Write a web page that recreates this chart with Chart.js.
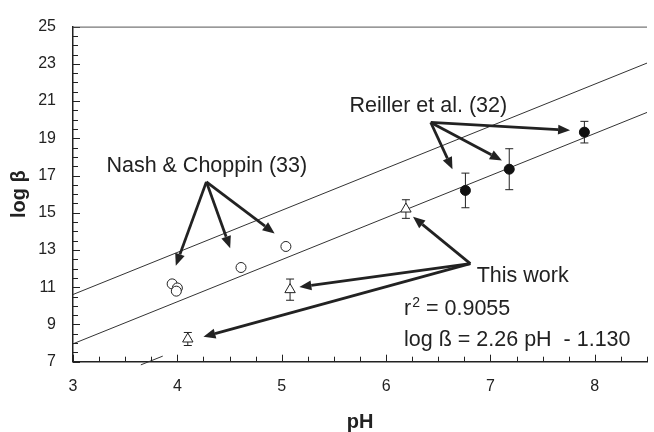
<!DOCTYPE html>
<html>
<head>
<meta charset="utf-8">
<script src="https://cdn.jsdelivr.net/npm/chart.js@4.4.0/dist/chart.umd.min.js"></script>
<style>
  html, body { margin: 0; padding: 0; background: #fff; }
  #wrap { width: 654px; height: 432px; }
</style>
</head>
<body>
<div id="wrap"><canvas id="c" width="654" height="432"></canvas></div>
<script>
'use strict';

// Nash & Choppin (33) - open circles
const nashPH = [3.95, 4.00, 3.99, 4.61, 5.04];
const nashLogB = [11.18, 10.96, 10.79, 12.06, 13.19];

// This work - open triangles with error bars
const workPH = [4.10, 5.08, 6.19];
const workLogB = [8.22, 10.87, 15.20];
const workErr = [0.35, 0.57, 0.50];

// Reiller et al. (32) - filled circles with error bars
const reillerPH = [6.76, 7.18, 7.90];
const reillerLogB = [16.20, 17.34, 19.33];
const reillerErr = [0.93, 1.10, 0.58];

// straight lines (end points)
const linePH = [3, 8.5];
const upperLine = [10.61, 23.04];
const lowerLine = [7.96, 20.39];
const stubPH = [3.65, 3.86];
const stubLine = [6.83, 7.30];

// axis ticks
const xTicks = [3, 4, 5, 6, 7, 8];
const yTicks = [7, 9, 11, 13, 15, 17, 19, 21, 23, 25];

const INK = '#222';
const FONT = '"Liberation Sans", Arial, sans-serif';

function pts(xs, ys) {
    return xs.map((x, i) => ({ x: x, y: ys[i] }));
}

// annotations: text spot + arrows, in data units
const notes = [
    { text: 'Nash & Choppin (33)', at: [3.32, 17.2], from: [4.278, 16.66],
      to: [[3.985, 12.16], [4.506, 13.10], [4.932, 13.89]] },
    { text: 'Reiller et al. (32)', at: [5.649, 20.43], from: [6.428, 19.85],
      to: [[7.763, 19.43], [7.11, 17.81], [6.636, 17.34]] },
    { text: 'This work', at: [6.868, 11.27], from: [6.807, 12.27],
      to: [[6.258, 14.78], [5.169, 11.01], [4.25, 8.34]] }
];

function arrow(ctx, x1, y1, x2, y2) {
    const ang = Math.atan2(y2 - y1, x2 - x1);
    const hl = 12, hw = 5;
    const bx = x2 - Math.cos(ang) * hl, by = y2 - Math.sin(ang) * hl;
    ctx.beginPath();
    ctx.moveTo(x1, y1);
    ctx.lineTo(bx, by);
    ctx.stroke();
    ctx.beginPath();
    ctx.moveTo(x2, y2);
    ctx.lineTo(bx + Math.sin(ang) * hw, by - Math.cos(ang) * hw);
    ctx.lineTo(bx - Math.sin(ang) * hw, by + Math.cos(ang) * hw);
    ctx.closePath();
    ctx.fill();
}

// error bars, drawn under the markers
const errorBars = {
    id: 'errorBars',
    beforeDatasetsDraw(chart) {
        const ctx = chart.ctx, xs = chart.scales.x, ys = chart.scales.y;
        const sets = [[workPH, workLogB, workErr], [reillerPH, reillerLogB, reillerErr]];
        ctx.save();
        ctx.strokeStyle = INK;
        ctx.lineWidth = 1;
        sets.forEach(s => {
            s[0].forEach((ph, i) => {
                const px = xs.getPixelForValue(ph);
                const top = ys.getPixelForValue(s[1][i] + s[2][i]);
                const bot = ys.getPixelForValue(s[1][i] - s[2][i]);
                ctx.beginPath();
                ctx.moveTo(px, top); ctx.lineTo(px, bot);
                ctx.moveTo(px - 4, top); ctx.lineTo(px + 4, top);
                ctx.moveTo(px - 4, bot); ctx.lineTo(px + 4, bot);
                ctx.stroke();
            });
        });
        ctx.restore();
    }
};

// inward tick marks, top frame line and the text notes
const decor = {
    id: 'decor',
    afterDraw(chart) {
        const ctx = chart.ctx, xs = chart.scales.x, ys = chart.scales.y;
        const a = chart.chartArea;
        ctx.save();
        ctx.strokeStyle = INK;
        ctx.lineWidth = 1;
        ctx.beginPath();
        for (let v = 3; v <= 8.5001; v += 0.25) {
            const px = Math.round(xs.getPixelForValue(v)) + 0.5;
            const len = Math.abs(v - Math.round(v)) < 1e-6 ? 7 : 5;
            ctx.moveTo(px, a.bottom); ctx.lineTo(px, a.bottom - len);
        }
        for (let v = 7; v <= 25.001; v += 0.5) {
            const py = Math.round(ys.getPixelForValue(v)) + 0.5;
            const len = (Math.abs(v - Math.round(v)) < 1e-6 && Math.round(v) % 2 === 1) ? 7 : 5;
            ctx.moveTo(a.left, py); ctx.lineTo(a.left + len, py);
        }
        ctx.stroke();

        // top frame
        ctx.strokeStyle = '#555';
        ctx.beginPath();
        ctx.moveTo(a.left, a.top + 0.5); ctx.lineTo(a.right, a.top + 0.5);
        ctx.stroke();

        // notes and arrows
        ctx.fillStyle = INK;
        ctx.strokeStyle = INK;
        ctx.lineWidth = 2.8;
        ctx.font = '21.5px ' + FONT;
        ctx.textBaseline = 'alphabetic';
        ctx.textAlign = 'left';
        notes.forEach(n => {
            ctx.fillText(n.text, xs.getPixelForValue(n.at[0]), ys.getPixelForValue(n.at[1]));
            const fx = xs.getPixelForValue(n.from[0]), fy = ys.getPixelForValue(n.from[1]);
            n.to.forEach(t => arrow(ctx, fx, fy, xs.getPixelForValue(t[0]), ys.getPixelForValue(t[1])));
        });

        // fit statistics
        let tx = xs.getPixelForValue(6.172);
        const ty1 = ys.getPixelForValue(9.53);
        const ty2 = ys.getPixelForValue(7.87);
        ctx.fillText('r', tx, ty1);
        const rw = ctx.measureText('r').width;
        ctx.font = '14px ' + FONT;
        ctx.fillText('2', tx + rw + 1, ty1 - 8);
        const sw = ctx.measureText('2').width;
        ctx.font = '21.5px ' + FONT;
        ctx.fillText(' = 0.9055', tx + rw + 1 + sw, ty1);
        ctx.fillText('log \u00df = 2.26 pH  - 1.130', tx, ty2);
        ctx.restore();
    }
};

const chart = new Chart(document.getElementById('c'), {
    type: 'scatter',
    data: {
        datasets: [{
            label: 'Nash & Choppin (33)',
            data: pts(nashPH, nashLogB),
            pointStyle: 'circle',
            pointRadius: 5,
            pointBackgroundColor: '#fff',
            pointBorderColor: INK,
            pointBorderWidth: 1
        }, {
            label: 'This work',
            data: pts(workPH, workLogB),
            pointStyle: 'triangle',
            pointRadius: 6,
            pointBackgroundColor: '#fff',
            pointBorderColor: INK,
            pointBorderWidth: 1
        }, {
            label: 'Reiller et al. (32)',
            data: pts(reillerPH, reillerLogB),
            pointStyle: 'circle',
            pointRadius: 5,
            pointBackgroundColor: '#111',
            pointBorderColor: '#111',
            pointBorderWidth: 1
        }, {
            label: 'upper',
            data: pts(linePH, upperLine),
            showLine: true,
            pointRadius: 0,
            borderColor: '#333',
            borderWidth: 1
        }, {
            label: 'lower',
            data: pts(linePH, lowerLine),
            showLine: true,
            pointRadius: 0,
            borderColor: '#333',
            borderWidth: 1
        }, {
            label: 'stub',
            data: pts(stubPH, stubLine),
            showLine: true,
            pointRadius: 0,
            borderColor: '#333',
            borderWidth: 1,
            clip: false
        }]
    },
    options: {
        responsive: false,
        animation: false,
        devicePixelRatio: 1,
        layout: { padding: { top: 17.5, right: 0, bottom: 0, left: 0 } },
        plugins: {
            legend: { display: false },
            tooltip: { enabled: false }
        },
        scales: {
            x: {
                type: 'linear',
                min: 3,
                max: 8.5,
                afterBuildTicks: s => { s.ticks = xTicks.map(v => ({ value: v })); },
                afterFit: s => { s.height = 70.3; },
                grid: { display: false, drawTicks: false },
                border: { display: true, color: INK, width: 1.5 },
                ticks: { padding: 15, color: INK, font: { family: FONT, size: 16, lineHeight: 1.2 } },
                title: {
                    display: true, text: 'pH', color: INK,
                    padding: { top: 0, bottom: 0 },
                    font: { family: FONT, size: 20, weight: 'bold', lineHeight: 1 }
                }
            },
            y: {
                type: 'linear',
                min: 7,
                max: 25,
                afterBuildTicks: s => { s.ticks = yTicks.map(v => ({ value: v })); },
                afterFit: s => { s.width = 73; },
                grid: { display: false, drawTicks: false },
                border: { display: true, color: INK, width: 1.5 },
                ticks: { padding: 17, color: INK, font: { family: FONT, size: 16, lineHeight: 1.2 } },
                title: {
                    display: true, text: 'log \u03b2', color: INK,
                    padding: { top: 9, bottom: 0 },
                    font: { family: FONT, size: 20, weight: 'bold', lineHeight: 1 }
                }
            }
        }
    },
    plugins: [errorBars, decor]
});
</script>
</body>
</html>
